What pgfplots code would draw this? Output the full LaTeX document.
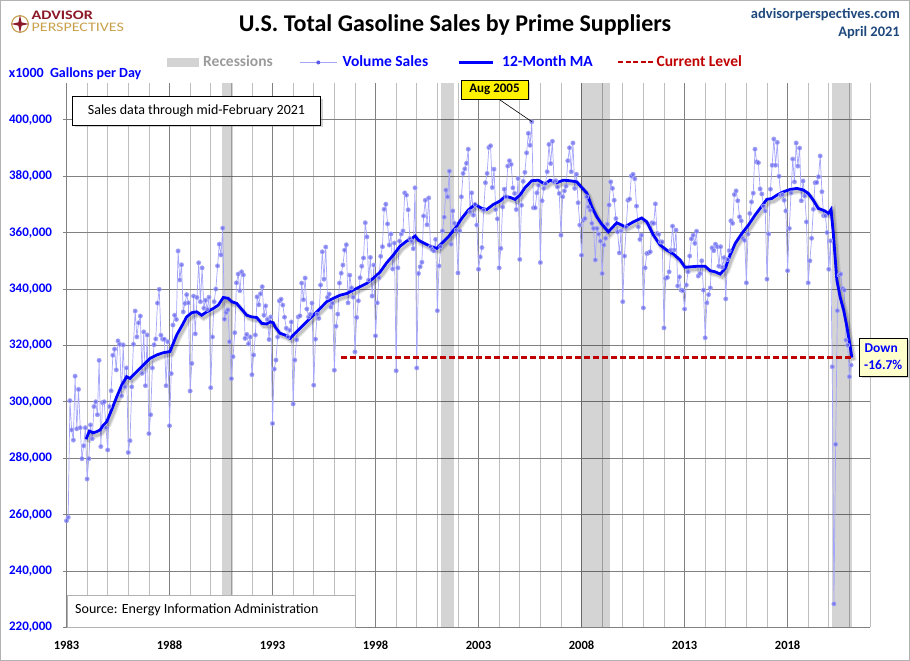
\documentclass[border=0pt]{standalone}
\usepackage{fontspec}
\setmainfont{Carlito}
\usepackage{graphicx}
\usepackage{pgfplots}
\pgfplotsset{compat=1.18}
\usepackage{pgfplotstable}
\usetikzlibrary{shadows}
\newcommand\fs[1]{\fontsize{#1}{#1}\selectfont}
\definecolor{volline}{RGB}{165,165,250}
\definecolor{volmark}{RGB}{90,90,235}
\definecolor{recgray}{RGB}{211,211,211}
\definecolor{gridmaj}{RGB}{128,128,128}
\definecolor{gridmin}{RGB}{190,190,190}
\definecolor{curred}{RGB}{192,0,0}
\definecolor{webblue}{RGB}{31,73,125}
\definecolor{advred}{RGB}{140,25,40}
\definecolor{advgold}{RGB}{200,160,75}
\definecolor{notey}{RGB}{255,255,204}
\definecolor{leggray}{RGB}{155,155,155}

\pgfplotstableread[header=false]{
257.8
259.0
300.4
290.0
286.4
309.1
290.4
304.4
290.8
279.8
284.4
290.8
272.6
279.8
291.8
286.9
298.3
300.0
295.4
314.7
284.1
299.7
300.0
290.8
282.9
298.3
303.9
316.5
318.7
311.3
321.6
320.4
302.1
320.2
305.3
312.0
282.0
286.2
305.3
320.4
332.2
323.0
328.0
330.4
310.1
324.8
305.7
323.7
288.7
295.4
312.0
320.2
322.3
335.0
339.9
323.6
322.2
322.2
305.7
321.3
291.5
310.0
327.2
330.7
329.2
353.5
343.2
348.6
331.9
334.9
338.0
335.1
303.8
313.6
337.5
324.1
337.0
349.3
335.5
347.5
333.2
336.0
332.8
337.1
305.0
323.0
335.5
340.0
348.2
355.9
352.1
361.6
329.3
331.7
332.6
321.3
308.2
316.0
324.5
342.2
345.3
339.4
346.1
345.0
322.5
323.9
320.5
323.0
309.6
316.6
323.7
337.2
334.4
338.3
340.8
330.7
334.0
329.2
322.1
330.1
292.3
311.6
314.8
323.0
335.8
336.4
334.3
330.0
326.1
323.0
325.4
328.3
299.2
314.8
322.0
330.1
330.5
342.1
336.2
343.9
332.9
330.1
331.0
335.0
305.9
322.2
331.1
329.6
341.4
353.2
343.5
354.9
337.0
338.2
333.6
335.0
311.2
326.8
331.1
342.1
345.6
348.5
353.8
355.7
335.1
344.9
340.4
337.1
317.7
329.9
335.8
344.0
348.1
351.0
363.5
358.5
343.2
351.2
337.5
348.5
323.4
335.1
344.0
351.6
355.0
368.3
370.1
363.1
355.6
359.5
347.1
356.3
311.0
347.5
357.0
359.5
360.6
374.1
373.3
368.1
357.9
357.0
354.3
375.9
312.0
345.5
347.9
349.5
365.9
371.5
362.8
372.3
355.0
354.0
353.5
357.6
332.3
348.2
355.0
360.6
365.5
375.1
372.7
381.8
355.9
367.7
363.3
360.9
345.7
360.6
372.7
381.0
382.6
384.6
389.6
367.4
374.1
366.2
370.0
362.7
347.0
351.4
354.7
368.0
377.7
381.0
390.2
390.8
376.0
382.5
368.2
364.9
347.5
354.4
369.1
375.4
372.7
383.6
385.5
384.2
375.9
373.9
368.2
379.2
350.5
369.7
378.2
381.4
388.3
395.2
391.0
399.3
368.8
368.8
374.1
376.8
349.4
371.3
375.7
377.4
381.6
391.3
384.5
392.4
378.0
378.4
376.2
373.9
359.1
372.7
374.8
376.5
385.5
390.1
381.6
391.8
375.7
380.7
370.6
362.7
352.0
364.4
365.0
372.7
369.1
368.0
363.3
361.5
350.3
361.5
359.5
357.0
345.5
355.6
358.0
363.0
369.8
378.0
375.7
371.5
365.0
360.3
352.8
360.6
335.5
351.7
362.0
371.5
371.9
380.1
380.7
379.1
369.4
362.1
357.6
359.1
333.3
347.5
352.6
352.8
353.2
363.5
363.3
370.2
359.7
359.4
356.7
356.7
326.2
343.8
344.1
346.1
353.8
362.3
353.8
360.9
341.1
344.3
339.6
339.4
332.9
341.4
346.1
351.7
357.8
359.1
356.2
360.5
344.6
345.5
350.0
339.6
322.7
335.1
338.0
340.4
354.6
353.6
355.9
355.0
348.1
355.0
347.7
351.1
336.5
350.5
353.6
364.2
363.3
373.5
374.8
371.3
365.6
364.2
357.9
357.3
342.2
359.5
366.8
370.9
374.0
389.6
385.1
384.8
375.5
373.7
369.4
367.7
343.5
359.5
375.4
383.9
393.2
383.9
392.0
380.0
373.3
373.5
371.5
367.7
346.5
361.5
374.1
386.1
378.0
391.8
383.6
390.0
371.3
378.3
373.0
363.8
342.2
350.0
358.0
368.3
377.7
377.8
379.8
387.2
374.5
366.0
366.0
360.0
347.0
357.1
312.4
228.3
284.9
332.3
344.9
345.3
340.2
339.6
321.9
320.1
308.9
313.0
}\vol

\pgfplotstableread[header=false]{
1983.95 286.7
1984.11 289.6
1984.30 289.0
1984.47 289.4
1984.63 290.0
1984.79 291.7
1984.95 292.9
1985.19 297.1
1985.44 301.8
1985.68 305.9
1985.92 308.9
1986.08 308.3
1986.33 310.1
1986.73 313.0
1987.05 315.4
1987.38 316.6
1987.70 317.4
1988.02 317.8
1988.20 321.0
1988.35 323.7
1988.59 326.8
1988.83 330.1
1989.08 331.6
1989.32 331.9
1989.56 330.7
1989.81 331.9
1990.13 333.1
1990.37 334.3
1990.61 337.0
1990.85 336.7
1991.02 335.5
1991.26 334.9
1991.42 333.5
1991.75 330.7
1991.99 330.1
1992.23 329.9
1992.48 327.8
1992.72 327.6
1992.88 328.4
1993.04 328.0
1993.12 326.6
1993.36 324.3
1993.60 323.7
1993.85 322.5
1994.09 324.3
1994.33 326.0
1994.66 328.4
1994.98 330.7
1995.31 333.1
1995.63 335.5
1995.95 336.7
1996.28 337.8
1996.60 338.4
1996.92 339.6
1997.25 340.8
1997.57 342.0
1997.89 343.8
1998.22 346.0
1998.54 349.3
1998.86 352.0
1999.19 355.2
1999.51 357.0
1999.76 357.9
1999.92 358.8
2000.08 357.3
2000.32 356.4
2000.65 355.2
2000.97 354.4
2001.21 356.2
2001.53 358.5
2001.86 361.5
2002.18 365.0
2002.50 368.0
2002.83 370.0
2003.16 368.6
2003.40 368.2
2003.72 370.0
2004.04 371.2
2004.29 372.9
2004.53 372.5
2004.77 371.8
2005.01 373.3
2005.26 376.0
2005.58 378.4
2005.90 378.6
2006.23 377.2
2006.47 378.6
2006.80 377.7
2007.12 378.6
2007.44 378.4
2007.77 378.0
2008.01 376.0
2008.25 374.1
2008.50 369.1
2008.74 365.6
2008.98 363.0
2009.30 360.3
2009.71 363.5
2010.11 362.1
2010.51 363.8
2010.92 365.2
2011.17 363.8
2011.49 359.1
2011.81 355.6
2012.14 353.8
2012.46 352.4
2012.78 350.3
2013.02 347.7
2013.35 347.9
2013.67 348.1
2013.99 348.1
2014.24 346.5
2014.48 346.1
2014.73 345.3
2014.97 347.3
2015.21 352.0
2015.46 356.2
2015.78 359.7
2016.10 362.7
2016.42 366.2
2016.75 369.4
2016.99 371.8
2017.23 372.1
2017.48 373.3
2017.80 374.5
2018.12 375.3
2018.45 375.7
2018.77 375.1
2019.01 373.9
2019.25 371.5
2019.49 368.6
2019.81 367.7
2019.98 366.8
2020.11 368.2
2020.22 359.7
2020.39 343.2
2020.55 337.2
2020.72 332.5
2020.88 326.6
2021.04 319.5
2021.12 315.7
}\ma

\begin{document}
\begin{tikzpicture}
\path[use as bounding box] (0pt,0pt) rectangle (910pt,661pt);
\draw[gray!60, line width=0.8pt] (0.6pt,0.6pt) rectangle (909.4pt,660.4pt);

\begin{axis}[
  at={(66.5pt,33.7pt)}, anchor=south west,
  width=803.5pt, height=543.8pt, scale only axis,
  xmin=1983, xmax=2022, ymin=220, ymax=412.9,
  axis lines*=left,
  axis line style={draw=gridmaj, line width=0.8pt},
  xtick={1983,1988,1993,1998,2003,2008,2013,2018},
  minor xtick={1984,1985,1986,1987,1989,1990,1991,1992,1994,1995,1996,1997,1999,2000,2001,2002,2004,2005,2006,2007,2009,2010,2011,2012,2014,2015,2016,2017,2019,2020,2021,2022},
  xticklabels={1983,1988,1993,1998,2003,2008,2013,2018},
  ytick={220,240,260,280,300,320,340,360,380,400},
  yticklabels={{220,000},{240,000},{260,000},{280,000},{300,000},{320,000},{340,000},{360,000},{380,000},{400,000}},
  xmajorgrids, xminorgrids, ymajorgrids,
  x grid style={draw=gridmaj, line width=0.8pt},
  minor x grid style={draw=gridmin, line width=0.8pt},
  y grid style={draw=gridmaj, line width=0.8pt},
  x tick style={draw=none},
  minor x tick style={draw=none},
  y tick style={draw=gridmaj, line width=0.8pt},
  tick align=outside,
  major tick length=4pt,
  xticklabel style={font={\fs{12.5}\bfseries}, text=black, yshift=-6pt},
  yticklabel style={font={\fs{13}\bfseries}, text=blue, xshift=-7pt},
]
\addplot[fill=black, fill opacity=0.17, draw=none] coordinates {(1990.53,412.9) (1991.08,412.9)} \closedcycle;
\addplot[fill=black, fill opacity=0.17, draw=none] coordinates {(2001.2,412.9) (2001.82,412.9)} \closedcycle;
\addplot[fill=black, fill opacity=0.17, draw=none] coordinates {(2007.99,412.9) (2009.38,412.9)} \closedcycle;
\addplot[fill=black, fill opacity=0.17, draw=none] coordinates {(2020.16,412.9) (2021.12,412.9)} \closedcycle;

\addplot[color=volline, line width=0.7pt, mark=*, mark size=2.1pt,
  mark options={fill=volmark, draw=none, fill opacity=0.7}]
  table[x expr={1983+\coordindex/12}, y index=0] {\vol};

\addplot[draw=black, opacity=0.10, line width=5.5pt] table[x expr={\thisrowno{0}+0.1}, y expr={\thisrowno{1}-1.06}] {\ma};
\addplot[draw=black, opacity=0.15, line width=3pt] table[x expr={\thisrowno{0}+0.1}, y expr={\thisrowno{1}-1.06}] {\ma};
\addplot[draw=blue, line width=2.8pt] table[x index=0, y index=1] {\ma};

\addplot[color=curred, solid, line width=2.2pt, dash pattern=on 6pt off 3pt] coordinates {(1996.33,315.7) (2021.12,315.7)};
\end{axis}

\begin{scope}[x=1pt,y=1pt]
% logo
\draw[advgold, line width=1.1pt] (20,637) circle (8.3);
\fill[advred] (20,646) -- (21.6,638.6) -- (29,637) -- (21.6,635.4) -- (20,628) -- (18.4,635.4) -- (11,637) -- (18.4,638.6) -- cycle;
\node[anchor=base west, inner sep=0pt, font={\fs{13}\bfseries}, text=advred] at (31.5,641) {\scalebox{1.24}[1]{ADVISOR}};
\node[anchor=base west, inner sep=0pt, font={\fs{13}}, text=advgold] at (31.5,629.6) {\scalebox{1.23}[1]{PERSPECTIVES}};

% title
\node[anchor=base, inner sep=0pt, font={\fs{24}\bfseries}] at (455,629.5) {U.S. Total Gasoline Sales by Prime Suppliers};
\node[anchor=base east, inner sep=0pt, font={\fs{14.5}\bfseries}, text=webblue] at (900,642.5) {advisorperspectives.com};
\node[anchor=base east, inner sep=0pt, font={\fs{14.5}\bfseries}, text=webblue] at (900,624.5) {April 2021};

% legend
\fill[recgray] (166.6,594.3) rectangle (199,602.7);
\node[anchor=base west, inner sep=0pt, font={\fs{15.5}\bfseries}, text=leggray] at (203,594.3) {Recessions};
\draw[volline, line width=0.8pt] (300,598.5) -- (336.6,598.5);
\fill[volmark] (318.3,598.5) circle (2);
\node[anchor=base west, inner sep=0pt, font={\fs{15.5}\bfseries}, text=blue] at (342.4,594.3) {Volume Sales};
\draw[blue, line width=2.8pt] (458.5,598.5) -- (493,598.5);
\node[anchor=base west, inner sep=0pt, font={\fs{15.5}\bfseries}, text=blue] at (502,594.3) {12-Month MA};
\draw[curred, line width=2pt, dash pattern=on 5pt off 2.5pt] (618,598.5) -- (655,598.5);
\node[anchor=base west, inner sep=0pt, font={\fs{15.5}\bfseries}, text=curred] at (656.5,594.3) {Current Level};

% y unit label
\node[anchor=base west, inner sep=0pt, font={\fs{14}\bfseries}, text=blue] at (8.7,583.5) {x1000\hspace{0.45em}Gallons per Day};

% annotation boxes
\node[draw=black, fill=white, line width=0.8pt, minimum width=248pt, minimum height=28.3pt, inner sep=0pt,
  drop shadow={shadow xshift=2.5pt, shadow yshift=-2.5pt, opacity=0.35}, font={\fs{14}}] at (196.5,550.2) {Sales data through mid-February 2021};

\draw[black, line width=0.6pt] (500,561) -- (531.7,539.4);
\node[draw=black, fill=yellow, line width=0.8pt, minimum width=67pt, minimum height=18.3pt, inner sep=0pt,
  drop shadow={shadow xshift=1.5pt, shadow yshift=-1.5pt, opacity=0.3}, font={\fs{13}\bfseries}] at (494.5,571.2) {Aug 2005};

\node[draw=gray!60, fill=white, line width=0.6pt, anchor=south west, minimum width=288.5pt, minimum height=32pt, inner sep=0pt] at (66.5,33.7) {};
\node[anchor=base west, inner sep=0pt, font={\fs{14}}] at (75,47.5) {Source: Energy Information Administration};

\node[draw=black, fill=notey, line width=0.8pt, anchor=north west, minimum width=48pt, minimum height=38.3pt, inner sep=0pt,
  drop shadow={shadow xshift=2pt, shadow yshift=-2pt, opacity=0.35}] at (859.3,323.3) {};
\node[anchor=base west, inner sep=0pt, font={\fs{13.5}\bfseries}, text=blue] at (864.5,308.3) {Down};
\node[anchor=base west, inner sep=0pt, font={\fs{13.5}\bfseries}, text=blue] at (864,291.7) {-16.7\%};
\end{scope}
\end{tikzpicture}
\end{document}
